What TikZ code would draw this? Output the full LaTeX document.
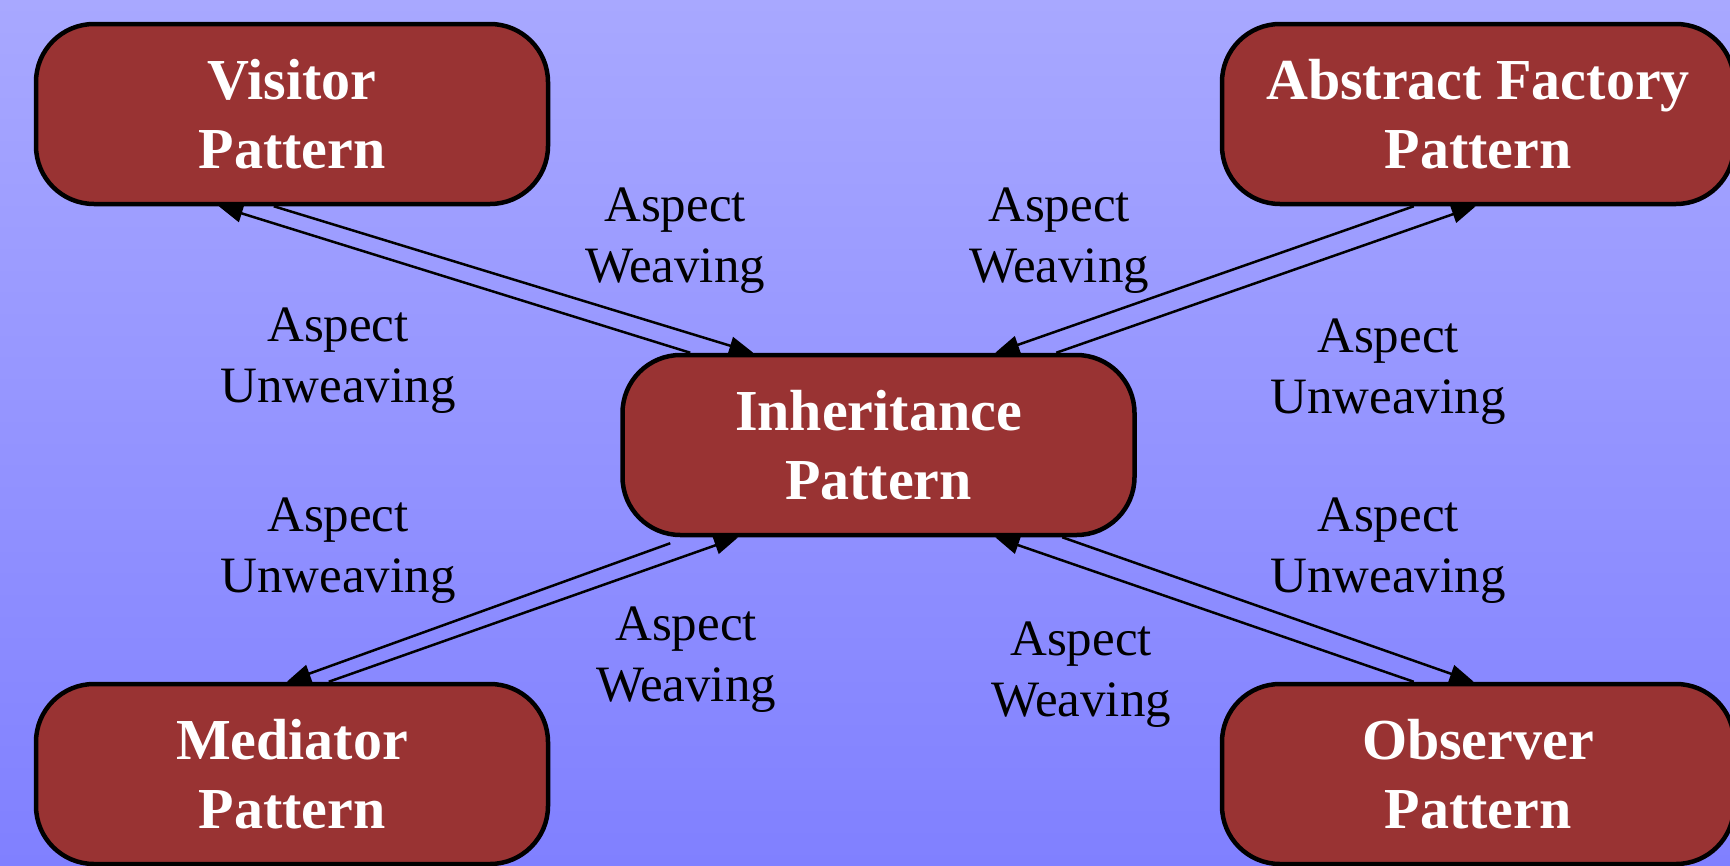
\documentclass[tikz,border=0pt]{standalone}
\usepackage{fontspec}
\setmainfont{Liberation Serif}
\usetikzlibrary{arrows.meta,calc}
\definecolor{bgtop}{RGB}{168,168,255}
\definecolor{bgbottom}{RGB}{128,128,255}
\definecolor{boxred}{RGB}{153,51,51}
\tikzset{
  pattbox/.style={draw=black, line width=4.5pt, fill=boxred, rounded corners=58pt,
    minimum width=512pt, minimum height=180pt, inner sep=0pt, align=center,
    text=white, font=\fontsize{58}{69.6}\selectfont\bfseries},
  lbl/.style={align=center, inner sep=0pt, font=\fontsize{51}{61}\selectfont},
  link/.style={line width=2.5pt, -{Triangle[length=24pt,width=18pt]}}
}
\begin{document}
\begin{tikzpicture}[x=1pt,y=-1pt]
\useasboundingbox (0,0) rectangle (1730,865);
\shade[top color=bgtop, bottom color=bgbottom] (0,0) rectangle (1730,865);

% pattern boxes
\node[pattbox] (vis) at (292,114) {Visitor\\Pattern};
\node[pattbox] (abf) at (1478,114) {Abstract Factory\\Pattern};
\node[pattbox] (inh) at (878.5,445) {Inheritance\\Pattern};
\node[pattbox] (med) at (292,774) {Mediator\\Pattern};
\node[pattbox] (obs) at (1478,774) {Observer\\Pattern};

% Visitor <-> Inheritance
\draw[link] ($(vis.south west)+(240,0)$) -- ($(inh.north west)+(133,0)$);
\draw[link] ($(inh.north west)+(70,0)$) -- ($(vis.south west)+(185,0)$);
% Abstract Factory <-> Inheritance
\draw[link] ($(abf.south west)+(194,0)$) -- ($(inh.north west)+(375,0)$);
\draw[link] ($(inh.north west)+(436,0)$) -- ($(abf.south west)+(256,0)$);
% Mediator <-> Inheritance
\draw[link] ($(inh.south west)+(50,6)$) -- ($(med.north west)+(253,0)$);
\draw[link] ($(med.north west)+(295,0)$) -- ($(inh.south west)+(118,0)$);
% Observer <-> Inheritance
\draw[link] ($(inh.south west)+(442,0)$) -- ($(obs.north west)+(254,0)$);
\draw[link] ($(obs.north west)+(194,0)$) -- ($(inh.south west)+(375,0)$);

% labels
\node[lbl] (lvw) at (675,241) {Aspect\\Weaving};
\node[lbl] (lvu) at (338,361) {Aspect\\Unweaving};
\node[lbl] (law) at (1059,241) {Aspect\\Weaving};
\node[lbl] (lau) at (1388,372) {Aspect\\Unweaving};
\node[lbl] (lmu) at (338,551) {Aspect\\Unweaving};
\node[lbl] (lmw) at (686,660) {Aspect\\Weaving};
\node[lbl] (lou) at (1388,551) {Aspect\\Unweaving};
\node[lbl] (low) at (1081,675) {Aspect\\Weaving};
\end{tikzpicture}
\end{document}
